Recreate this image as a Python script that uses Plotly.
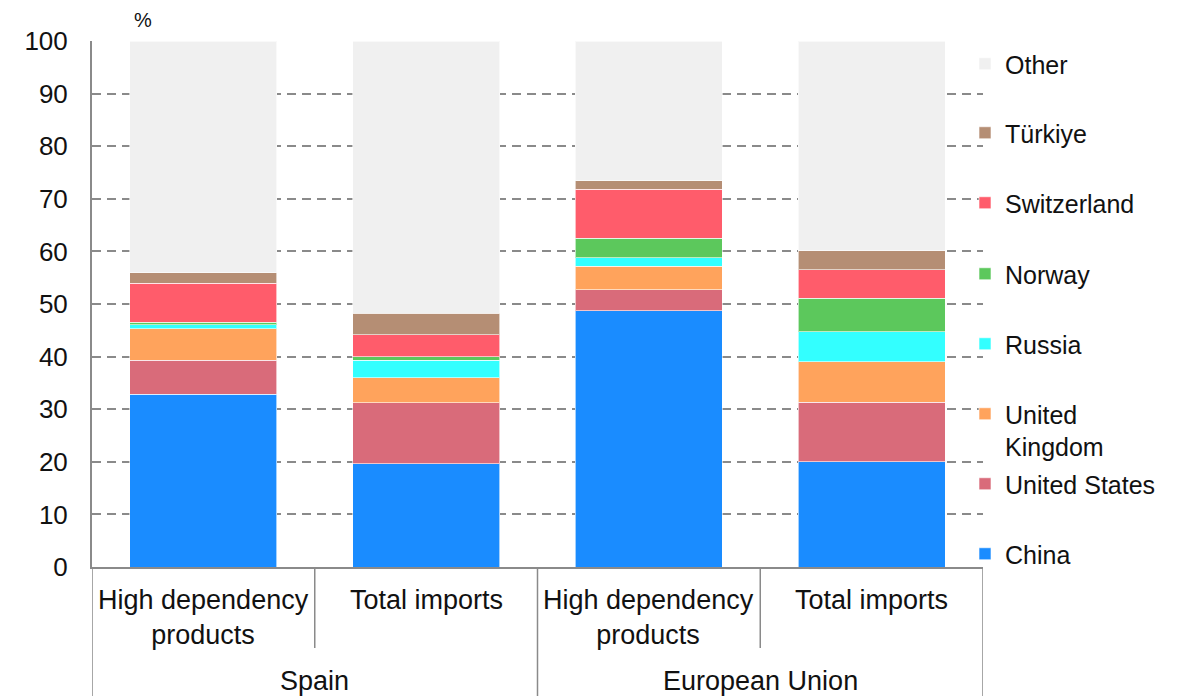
import plotly.graph_objects as go

# Categories: outer group and inner measure for each bar
groups = ["Spain", "Spain", "European Union", "European Union"]
measures = ["High dependency<br>products", "Total imports",
            "High dependency<br>products", "Total imports"]

# Share of imports by origin (%)
china = [32.8, 19.6, 48.7, 20.0]
united_states = [6.5, 11.6, 4.0, 11.3]
united_kingdom = [6.0, 4.8, 4.5, 7.7]
russia = [0.8, 3.3, 1.6, 5.7]
norway = [0.4, 0.7, 3.7, 6.4]
switzerland = [7.4, 4.2, 9.3, 5.4]
turkiye = [2.0, 4.0, 1.6, 3.6]
other = [44.1, 51.8, 26.6, 39.9]

y_ticks = [0, 10, 20, 30, 40, 50, 60, 70, 80, 90, 100]

series = [
    ("China", china, "#1a8cff"),
    ("United States", united_states, "#d96b7a"),
    ("United<br>Kingdom", united_kingdom, "#ffa35c"),
    ("Russia", russia, "#33ffff"),
    ("Norway", norway, "#5cc85c"),
    ("Switzerland", switzerland, "#ff5c6b"),
    ("Türkiye", turkiye, "#b58e74"),
    ("Other", other, "#f0f0f0"),
]

# Legend key rows (page pixel row of each key's first text line), bottom to top
legend_rows = [555, 485, 415, 345, 275, 204, 134, 65]

x_pos = list(range(len(measures)))
FONT = "Liberation Sans, Arial, Helvetica, sans-serif"
FS = 26
LEG_FS = 25
GRAY = "#8a8a8a"
TXT = "#111111"

# Plot area geometry in pixels (used for label/divider/legend placement)
W, H = 1178, 696
ml, mr, mt, mb = 92, 195, 41, 129
plot_w = W - ml - mr
plot_h = H - mt - mb

def py(pixel_y):
    """Convert a page pixel row to paper y coordinate."""
    return (H - mb - pixel_y) / plot_h

def px(pixel_x):
    """Convert a page pixel column to paper x coordinate."""
    return (pixel_x - ml) / plot_w

fig = go.Figure()
legend_layouts = {}
for k, (name, vals, color) in enumerate(series):
    lid = "legend" if k == 0 else f"legend{k + 1}"
    fig.add_trace(go.Bar(
        x=x_pos, y=vals, name=name, legend=lid, showlegend=True,
        marker=dict(color=color, line=dict(color="rgba(255,255,255,0.6)", width=1)),
        width=0.66,
    ))
    legend_layouts[lid] = dict(
        x=px(965), xanchor="left", y=py(legend_rows[k] - 24), yanchor="top",
        valign="top", font=dict(size=LEG_FS, color=TXT, family=FONT),
        bgcolor="rgba(0,0,0,0)", itemclick=False, itemdoubleclick=False,
    )

shapes = []
# Dividers between bars (inner level) and between groups (outer level)
for xv in [0.5, 2.5]:
    shapes.append(dict(type="line", xref="x", yref="paper", x0=xv, x1=xv,
                       y0=0, y1=py(648), line=dict(color=GRAY, width=1.5)))
for xv in [-0.5, 1.5, 3.5]:
    shapes.append(dict(type="line", xref="x", yref="paper", x0=xv, x1=xv,
                       y0=0, y1=py(700), line=dict(color=GRAY, width=1.5)))

annotations = []
for xv, label in zip(x_pos, measures):
    annotations.append(dict(x=xv, xref="x", y=py(583), yref="paper", text=label,
                            showarrow=False, yanchor="top", xanchor="center",
                            font=dict(size=27, color=TXT, family=FONT)))
# Outer group labels centred over their bars
seen = []
for g in groups:
    if g not in seen:
        seen.append(g)
for g in seen:
    idx = [i for i, gg in enumerate(groups) if gg == g]
    xc = sum(x_pos[i] for i in idx) / len(idx)
    annotations.append(dict(x=xc, xref="x", y=py(681), yref="paper", text=g,
                            showarrow=False, yanchor="middle", xanchor="center",
                            font=dict(size=27, color=TXT, family=FONT)))
annotations.append(dict(x=px(143), xref="paper", y=py(20), yref="paper",
                        text="%", showarrow=False, xanchor="center", yanchor="middle",
                        font=dict(size=20, color=TXT, family=FONT)))

fig.update_layout(
    width=W, height=H,
    barmode="stack",
    showlegend=True,
    paper_bgcolor="white", plot_bgcolor="white",
    margin=dict(l=ml, r=mr, t=mt, b=mb, pad=0, autoexpand=False),
    font=dict(family=FONT, size=FS, color=TXT),
    xaxis=dict(range=[-0.5, 3.5], showticklabels=False, showgrid=False,
               zeroline=False, showline=True, linecolor=GRAY, linewidth=2, ticks=""),
    yaxis=dict(range=[0, 100], tickvals=y_ticks, showgrid=True, gridcolor=GRAY,
               gridwidth=1.5, griddash="9px,6px", zeroline=False, showline=True,
               linecolor=GRAY, linewidth=2, ticks="", ticklabelstandoff=17,
               tickfont=dict(size=FS, color=TXT, family=FONT)),
    shapes=shapes,
    annotations=annotations,
    **legend_layouts,
)

fig.write_html("out.html")
